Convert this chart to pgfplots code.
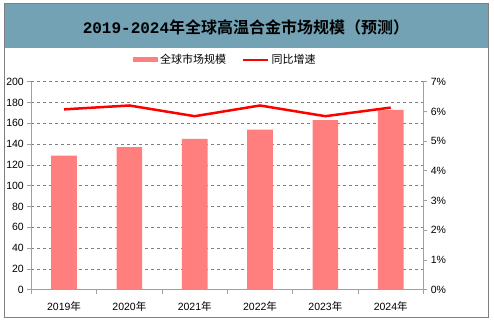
\documentclass[border=0pt]{standalone}
\usepackage{pgfplots}
\pgfplotsset{compat=1.18}
\usepackage{fontspec}
\setmainfont{Liberation Sans}
\newfontfamily\cjk{Noto Sans CJK SC}
\newfontfamily\cjkb{Noto Sans CJK SC Bold}
\newfontfamily\monob{Liberation Mono Bold}
\definecolor{band}{HTML}{72A2B4}
\definecolor{barc}{HTML}{FF7F7F}
\definecolor{gridc}{HTML}{7F7F7F}
\definecolor{axc}{HTML}{A0A0A0}
\begin{document}
\begin{tikzpicture}[x=1pt,y=1pt]
\useasboundingbox (0,0) rectangle (494,323);
\fill[band] (4,275) rectangle (488,319);
\draw[gridc, line width=1pt] (4,5) rectangle (488,319);
\node[inner sep=0pt] at (246,296) {\fontsize{16}{18}\selectfont\monob 2019-2024\cjkb 年全球高温合金市场规模（预测）};
\begin{axis}[
  name=main,
  at={(48,32)}, anchor=south west, scale only axis,
  width=392pt, height=208pt,
  xmin=-0.5, xmax=5.5, ymin=0, ymax=200,
  ytick={0,20,...,200},
  xtick={0,...,5},
  xticklabels={2019{\cjk 年},2020{\cjk 年},2021{\cjk 年},2022{\cjk 年},2023{\cjk 年},2024{\cjk 年}},
  major x tick style={draw=none},
  minor xtick={-0.5,0.5,...,5.5},
  minor tick length=4pt,
  major tick length=4pt,
  tick align=outside,
  axis x line*=bottom, axis y line*=left,
  axis line style={axc, line width=0.8pt},
  tick style={axc, line width=0.8pt},
  ymajorgrids, grid style={gridc, dashed, line width=0.5pt},
  /pgf/number format/assume math mode=true,
  tick label style={font=\fontsize{10.5}{12}\selectfont},
  xticklabel style={yshift=-4pt},
  legend style={at={(0.495,1.105)}, anchor=center, draw=none, fill=none,
    legend columns=2, inner sep=0pt,
    /tikz/every even column/.append style={column sep=14pt},
    font=\cjk\fontsize{11}{13}\selectfont},
]
\addplot[ybar, fill=barc, draw=none, bar width=25.7pt,
  legend image code/.code={\fill[barc] (0pt,-2.5pt) rectangle (25pt,2.5pt);}]
  coordinates {(0,129) (1,137) (2,145) (3,154) (4,163) (5,173)};
\addlegendentry{全球市场规模}
\addlegendimage{legend image code/.code={\draw[red,line width=2.5pt] (0pt,0pt) -- (25pt,0pt);}}
\addlegendentry{同比增速}
\end{axis}
\begin{axis}[
  at={(main.south west)}, anchor=south west, scale only axis,
  width=392pt, height=208pt,
  xmin=-0.5, xmax=5.5, ymin=0, ymax=7,
  ytick={0,1,...,7},
  yticklabel={\pgfmathprintnumber{\tick}\%},
  xtick=\empty,
  axis x line*=bottom, axis y line*=right,
  x axis line style={draw=none},
  y axis line style={axc, line width=0.8pt},
  tick style={axc, line width=0.8pt},
  major tick length=4pt, tick align=outside,
  /pgf/number format/assume math mode=true,
  tick label style={font=\fontsize{10.5}{12}\selectfont},
]
\addplot[red, line width=2.5pt] coordinates {(0,6.07) (1,6.2) (2,5.84) (3,6.2) (4,5.84) (5,6.13)};
\end{axis}
\end{tikzpicture}
\end{document}
